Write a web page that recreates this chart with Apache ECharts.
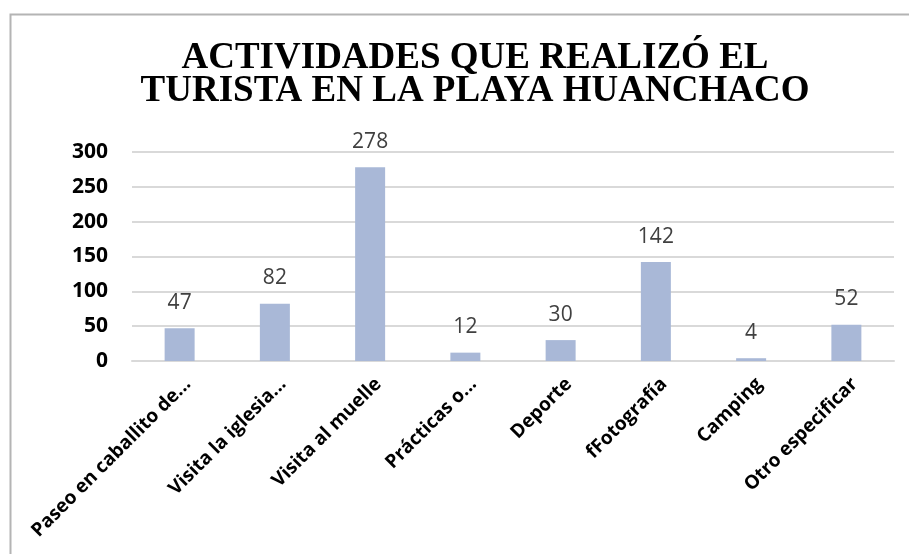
<!DOCTYPE html>
<html>
<head>
<meta charset="utf-8">
<script src="https://cdn.jsdelivr.net/npm/echarts@6/dist/echarts.min.js"></script>
<style>
html,body{margin:0;padding:0;background:#fff;}
#chart{width:909px;height:554px;}
</style>
</head>
<body>
<div id="chart"></div>
<script>
const titleText = "ACTIVIDADES QUE REALIZÓ EL\nTURISTA EN LA PLAYA HUANCHACO";
const categories = ["Paseo en caballito de...", "Visita la iglesia...", "Visita al muelle", "Prácticas o...", "Deporte", "fFotografía", "Camping", "Otro especificar"];
const values = [47, 82, 278, 12, 30, 142, 4, 52];
const yMin = 0, yMax = 300, yStep = 50;

const chart = echarts.init(document.getElementById('chart'));
chart.setOption({
  animation: false,
  backgroundColor: '#ffffff',
  graphic: [{
    type: 'rect', left: 8, top: 12, silent: true,
    shape: {width: 1000, height: 1000},
    style: {fill: 'none', stroke: '#b4b4b4', lineWidth: 2}
  }],
  title: {
    text: titleText,
    left: 470, top: 37, textAlign: 'center',
    textStyle: {fontFamily: 'Liberation Serif', fontWeight: 'bold', fontSize: 37, lineHeight: 33, color: '#000'}
  },
  grid: {left: 132, right: 15, top: 152, bottom: 193, containLabel: false},
  xAxis: {
    type: 'category', data: categories,
    axisLine: {lineStyle: {color: '#d9d9d9', width: 2}},
    axisTick: {show: false},
    axisLabel: {
      interval: 0, rotate: 45, margin: 12,
      align: 'right', verticalAlign: 'top', padding: [2, 0, 0, 0],
      fontFamily: 'Open Sans', fontWeight: 'bold', fontSize: 19, color: '#000'
    }
  },
  yAxis: {
    type: 'value', min: yMin, max: yMax, interval: yStep,
    axisLine: {show: false}, axisTick: {show: false},
    splitLine: {lineStyle: {color: '#d9d9d9', width: 2}},
    axisLabel: {margin: 24, fontFamily: 'Open Sans', fontWeight: 'bold', fontSize: 21, color: '#000'}
  },
  series: [{
    type: 'bar', data: values, barWidth: 30,
    itemStyle: {color: '#a9b8d7'},
    label: {show: true, position: 'top', distance: 15, fontFamily: 'Open Sans', fontSize: 21, color: '#404040'}
  }]
});
</script>
</body>
</html>
